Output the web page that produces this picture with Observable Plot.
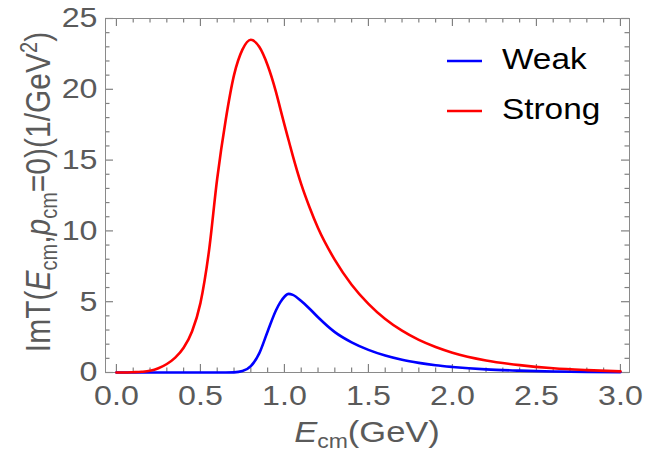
<!DOCTYPE html>
<html>
<head>
<meta charset="utf-8">
<script src="https://cdn.jsdelivr.net/npm/d3@7"></script>
<script src="https://cdn.jsdelivr.net/npm/@observablehq/plot@0.6"></script>
<style>
  html, body { margin: 0; padding: 0; background: #fff; }
  #chart { width: 646px; height: 453px; }
</style>
</head>
<body>
<div id="chart"></div>
<script>
// ---- data ----
const energy = [0, 0.05, 0.1, 0.15, 0.2, 0.25, 0.3, 0.35, 0.4, 0.45, 0.5, 0.55, 0.6, 0.65, 0.7, 0.75, 0.8, 0.85, 0.9, 0.95, 0.975, 1.0, 1.025, 1.05, 1.1, 1.15, 1.2, 1.3, 1.4, 1.5, 1.6, 1.7, 1.8, 1.9, 2.0, 2.2, 2.4, 2.6, 2.8, 3.0];
const weak = [0, 0, 0, 0, 0, 0, 0, 0, 0, 0, 0, 0, 0, 0, 0.01, 0.1, 0.45, 1.35, 2.9, 4.4, 4.95, 5.35, 5.55, 5.48, 5.05, 4.5, 3.9, 2.85, 2.13, 1.6, 1.2, 0.9, 0.68, 0.51, 0.39, 0.22, 0.13, 0.075, 0.045, 0.03];
const strong = [0, 0, 0.02, 0.05, 0.12, 0.3, 0.6, 1.05, 1.75, 2.9, 4.9, 8.5, 13.7, 17.8, 21.0, 22.8, 23.5, 23.0, 21.7, 19.8, 18.65, 17.5, 16.4, 15.3, 13.3, 11.65, 10.2, 7.95, 6.2, 4.85, 3.78, 2.95, 2.3, 1.8, 1.4, 0.85, 0.52, 0.3, 0.17, 0.08];
const seriesNames = ["Weak", "Strong"];
const seriesColors = ["#0000ff", "#ff0000"];
const xMajor = [0, 0.5, 1.0, 1.5, 2.0, 2.5, 3.0];
const xTickLabels = ["0.0", "0.5", "1.0", "1.5", "2.0", "2.5", "3.0"];
const xMinor = [0.1,0.2,0.3,0.4,0.6,0.7,0.8,0.9,1.1,1.2,1.3,1.4,1.6,1.7,1.8,1.9,2.1,2.2,2.3,2.4,2.6,2.7,2.8,2.9];
const yMajor = [0, 5, 10, 15, 20, 25];
const yTickLabels = ["0", "5", "10", "15", "20", "25"];
const yMinor = [1,2,3,4,6,7,8,9,11,12,13,14,16,17,18,19,21,22,23,24];

const rows = [];
energy.forEach((e, i) => rows.push({E: e, v: weak[i], s: seriesNames[0]}));
energy.forEach((e, i) => rows.push({E: e, v: strong[i], s: seriesNames[1]}));

const W = 646, H = 453;
const mL = 105, mR = 17, mT = 18, mB = 81;
const plotW = W - mL - mR, plotH = H - mT - mB;
const MAJ = 8, MIN = 4.5;

const frameColor = "#8a8a8a";
const tickColor = "#808080";
const labelColor = "#5a5a5a";
const FONT = "'Liberation Sans', Arial, sans-serif";
const STRETCH = 1.15;
const tk = {stroke: tickColor, strokeWidth: 1.2};

const svg = Plot.plot({
  width: W,
  height: H,
  marginLeft: mL,
  marginRight: mR,
  marginTop: mT,
  marginBottom: mB,
  style: {fontFamily: FONT, background: "#fff", overflow: "visible"},
  x: {domain: [-0.065, 3.054]},
  y: {domain: [0, 25]},
  color: {domain: seriesNames, range: seriesColors},
  marks: [
    // inward major / minor ticks on all four sides
    Plot.ruleX(xMajor, {x: d => d, insetTop: plotH - MAJ, ...tk}),
    Plot.ruleX(xMajor, {x: d => d, insetBottom: plotH - MAJ, ...tk}),
    Plot.ruleX(xMinor, {x: d => d, insetTop: plotH - MIN, ...tk}),
    Plot.ruleX(xMinor, {x: d => d, insetBottom: plotH - MIN, ...tk}),
    Plot.ruleY(yMajor, {y: d => d, insetRight: plotW - MAJ, ...tk}),
    Plot.ruleY(yMajor, {y: d => d, insetLeft: plotW - MAJ, ...tk}),
    Plot.ruleY(yMinor, {y: d => d, insetRight: plotW - MIN, ...tk}),
    Plot.ruleY(yMinor, {y: d => d, insetLeft: plotW - MIN, ...tk}),
    // tick labels
    Plot.axisX(xMajor, {anchor: "bottom", tickSize: 0, tickPadding: 13, fontSize: 28, fill: labelColor, label: null,
      tickFormat: d => xTickLabels[xMajor.indexOf(d)]}),
    Plot.axisY(yMajor, {anchor: "left", tickSize: 0, tickPadding: 8, fontSize: 28, fill: labelColor, label: null,
      tickFormat: d => yTickLabels[yMajor.indexOf(d)]}),
    Plot.frame({stroke: frameColor, strokeWidth: 1}),
    Plot.line(rows, {x: "E", y: "v", z: "s", stroke: "s", strokeWidth: 2.6, curve: "monotone-x"})
  ]
});

// widen tick label glyphs horizontally like the reference rendering
svg.querySelectorAll("text").forEach(t => {
  const x = +(t.getAttribute("x") || 0);
  const tr = t.getAttribute("transform") || "";
  t.setAttribute("transform", `${tr} translate(${x},0) scale(${STRETCH},1) translate(${-x},0)`);
});

const root = d3.select(svg);

// x-axis title
const xt = root.append("text")
  .attr("transform", `translate(367,442) scale(${STRETCH},1)`)
  .attr("text-anchor", "middle")
  .attr("font-family", FONT)
  .attr("font-size", 30)
  .attr("fill", labelColor);
xt.append("tspan").attr("font-style", "italic").text("E");
xt.append("tspan").attr("font-size", 20).attr("dy", 6).text("cm");
xt.append("tspan").attr("dy", -6).text("(GeV)");

// y-axis title
const yt = root.append("text")
  .attr("transform", `translate(50,192) scale(${STRETCH},1) rotate(-90)`)
  .attr("text-anchor", "middle")
  .attr("font-family", FONT)
  .attr("font-size", 30)
  .attr("fill", labelColor);
yt.append("tspan").text("ImT(");
yt.append("tspan").attr("font-style", "italic").text("E");
yt.append("tspan").attr("font-size", 20).attr("dy", 6).text("cm");
yt.append("tspan").attr("dy", -6).text(",");
yt.append("tspan").attr("font-style", "italic").text("p");
yt.append("tspan").attr("font-size", 20).attr("dy", 6).text("cm");
yt.append("tspan").attr("dy", -6).text("=0)(1/GeV");
yt.append("tspan").attr("font-size", 20).attr("dy", -11).text("2");
yt.append("tspan").attr("dy", 11).text(")");

// legend
const legendY = [61, 111];
seriesNames.forEach((name, i) => {
  const g = root.append("g");
  g.append("line")
    .attr("x1", 447).attr("x2", 482)
    .attr("y1", legendY[i]).attr("y2", legendY[i])
    .attr("stroke", seriesColors[i]).attr("stroke-width", 2.6);
  g.append("text")
    .attr("transform", `translate(502,${legendY[i] + 8}) scale(${STRETCH},1)`)
    .attr("text-anchor", "start")
    .attr("font-family", FONT)
    .attr("font-size", 29)
    .attr("fill", "#000")
    .text(name);
});

document.getElementById("chart").appendChild(svg);
</script>
</body>
</html>
